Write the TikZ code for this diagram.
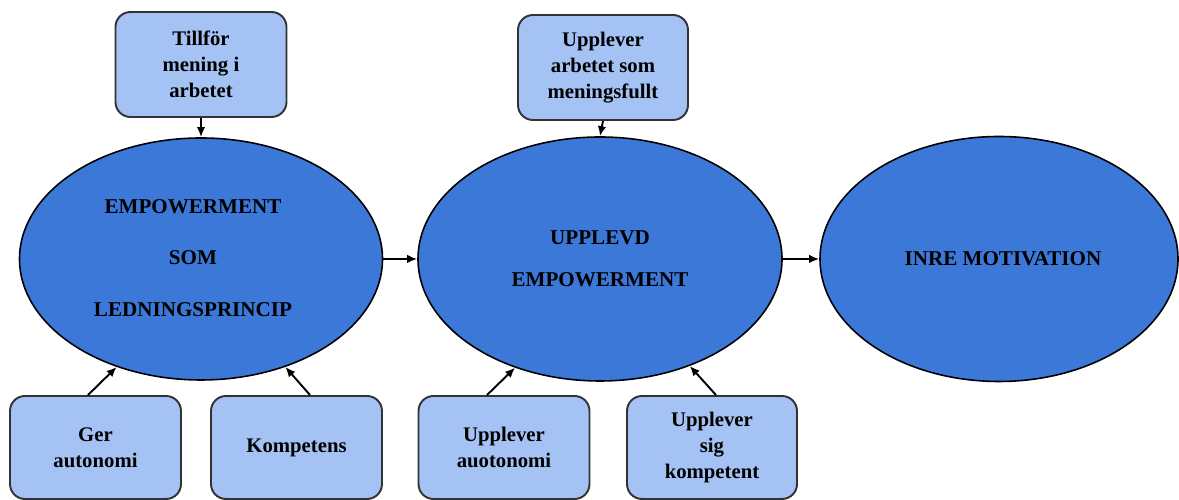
\documentclass[tikz,border=0pt]{standalone}
\usepackage{fontspec}
\setmainfont{Liberation Serif}
\usetikzlibrary{positioning,shapes.geometric,arrows.meta}
\definecolor{ovalblue}{HTML}{3C78D8}
\definecolor{boxblue}{HTML}{A4C2F4}

\begin{document}
\begin{tikzpicture}[->,>={Latex[length=2mm,width=1.7mm]},line width=1.1pt]
  \tikzstyle{oval}=[ellipse, draw=black, line width=0.9pt, fill=ovalblue, inner sep=0pt,
align=center, font=\bfseries\fontsize{12}{14.8}\selectfont]
  \tikzstyle{box}=[rectangle, rounded corners=0.3cm, draw=black!80, line width=1.1pt,
fill=boxblue, minimum width=3.42cm, minimum height=2.06cm, align=center,
font=\bfseries\fontsize{11.8}{14.8}\selectfont]
  \useasboundingbox (0,0) rectangle (23.58,10);
  \node[oval, minimum width=7.26cm, minimum height=4.84cm] (M_1) at (4.02,4.82) {};
  \node[align=center, font=\bfseries\fontsize{12}{14.8}\selectfont] (M_1_text)
    at (3.86,4.84) {EMPOWERMENT\\[14.6pt]SOM\\[14.6pt]LEDNINGSPRINCIP};
  \node[oval, minimum width=7.28cm, minimum height=4.88cm] (M_2) at (12.0,4.82)
    {UPPLEVD\\[9pt]EMPOWERMENT};
  \node[oval, minimum width=7.16cm, minimum height=4.9cm] (M_3) at (19.98,4.82)
    {\hspace*{0.16cm}INRE MOTIVATION};
  \node[box, minimum height=2.1cm] (T_1) at (4.02,8.71) {Tillför\\mening i\\arbetet};
  \node[box, minimum width=3.4cm, minimum height=2.1cm] (T_2) at (12.06,8.65)
    {Upplever\\arbetet som\\meningsfullt};
  \node[box] (B_1) at (1.91,1.05) {Ger\\autonomi};
  \node[box] (B_2) at (5.93,1.05) {Kompetens};
  \node[box] (B_3) at (10.08,1.05) {Upplever\\auotonomi};
  \node[box, minimum width=3.4cm] (B_4) at (14.24,1.05) {Upplever\\sig\\kompetent};
  \draw (M_1) -- (M_2);
  \draw (M_2) -- (M_3);
  \draw (T_1) -- (M_1);
  \draw (T_2.south) -- (M_2.north);
  \draw ([xshift=-0.15cm]B_1.north) -- (M_1.232);
  \draw ([xshift=0.27cm]B_2.north) -- (M_1.308);
  \draw ([xshift=-0.34cm]B_3.north) -- (M_2.232);
  \draw ([xshift=0.08cm]B_4.north) -- (M_2.310);
\end{tikzpicture}
\end{document}
